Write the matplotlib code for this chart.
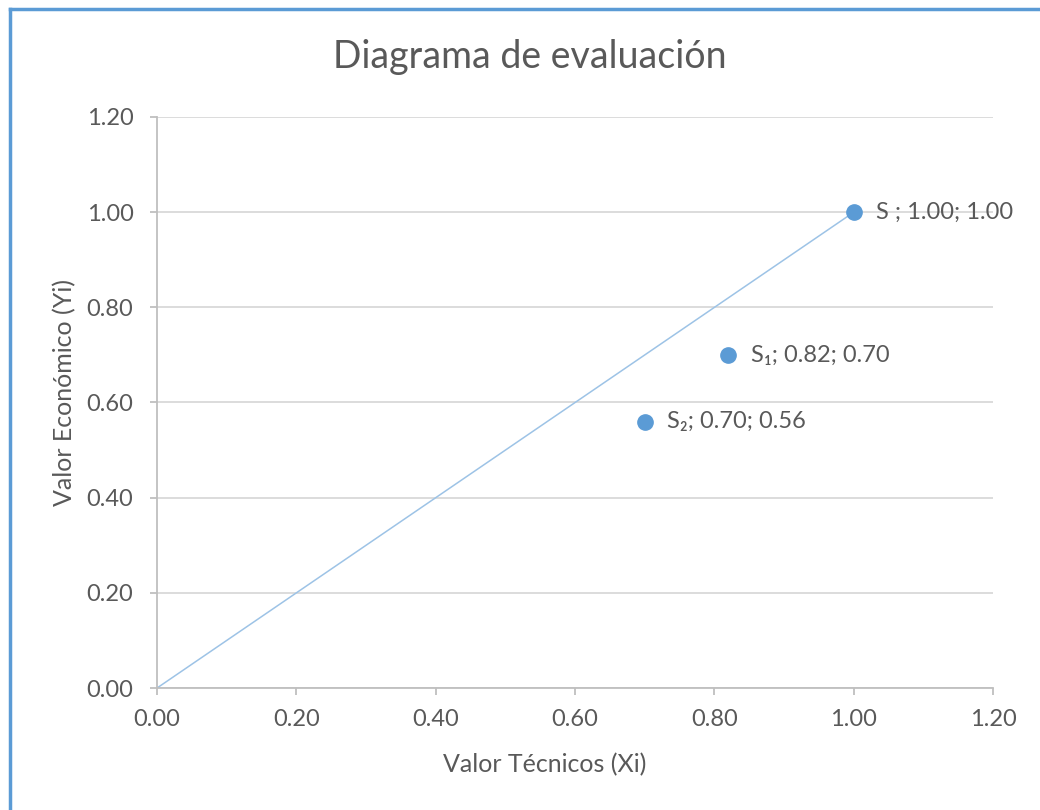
import matplotlib
matplotlib.use("Agg")
import matplotlib.pyplot as plt
from matplotlib.lines import Line2D

plt.rcParams["font.family"] = ["Lato", "DejaVu Sans"]

# alternatives: technical value (x), economic value (y)
names = ["S", "S\u2081", "S\u2082"]
x_vals = [1.00, 0.82, 0.70]
y_vals = [1.00, 0.70, 0.56]
# ideal line from origin to the ideal solution
ideal_x = [0.00, 1.00]
ideal_y = [0.00, 1.00]
ticks = [0.00, 0.20, 0.40, 0.60, 0.80, 1.00, 1.20]

grey = "#595959"
axis_grey = "#bfbfbf"
grid_grey = "#d9d9d9"
blue = "#5b9bd5"

fig = plt.figure(figsize=(10.4, 8.1), dpi=100)
ax = fig.add_axes([0.151, 0.1506, 0.804, 0.705])

ax.plot(ideal_x, ideal_y, color="#9dc3e6", lw=1.1, zorder=2)
ax.plot(x_vals, y_vals, "o", color=blue, ms=11, zorder=3, linestyle="none")
for n, xv, yv in zip(names, x_vals, y_vals):
    sep = " ; " if n == "S" else "; "
    ax.annotate(f"{n}{sep}{xv:.2f}; {yv:.2f}", (xv, yv), xytext=(16, 0),
                textcoords="offset points", va="center", ha="left",
                fontsize=17, color=grey)

ax.set_xlim(0, 1.2)
ax.set_ylim(0, 1.2)
ax.set_xticks(ticks)
ax.set_yticks(ticks)
ax.set_xticklabels([f"{t:.2f}" for t in ticks])
ax.set_yticklabels([f"{t:.2f}" for t in ticks])
ax.yaxis.grid(True, color=grid_grey, lw=1.3)
ax.set_axisbelow(True)
for s in ["top", "right"]:
    ax.spines[s].set_visible(False)
for s in ["left", "bottom"]:
    ax.spines[s].set_color(axis_grey)
    ax.spines[s].set_linewidth(1.3)
ax.tick_params(axis="both", colors=axis_grey, length=5, width=1.3,
               labelcolor=grey, labelsize=17)
ax.tick_params(axis="y", pad=12)
ax.tick_params(axis="x", pad=10)

ax.set_xlabel("Valor Técnicos (Xi)", fontsize=18, color=grey, va="center")
ax.set_ylabel("Valor Económico (Yi)", fontsize=18, color=grey, va="center")
ax.xaxis.set_label_coords(0.464, -0.135)
ax.yaxis.set_label_coords(-0.110, 0.517)
fig.text(530 / 1040, 1 - 57 / 810, "Diagrama de evaluación", fontsize=27,
         color=grey, ha="center", va="center")

# chart frame on the left and top edges
fig.add_artist(Line2D([0.0096, 0.0096], [0, 0.989], transform=fig.transFigure,
                      color=blue, lw=2.5))
fig.add_artist(Line2D([0.0096, 1.0], [0.989, 0.989], transform=fig.transFigure,
                      color=blue, lw=2.5))

fig.savefig("out.png", dpi=100)
